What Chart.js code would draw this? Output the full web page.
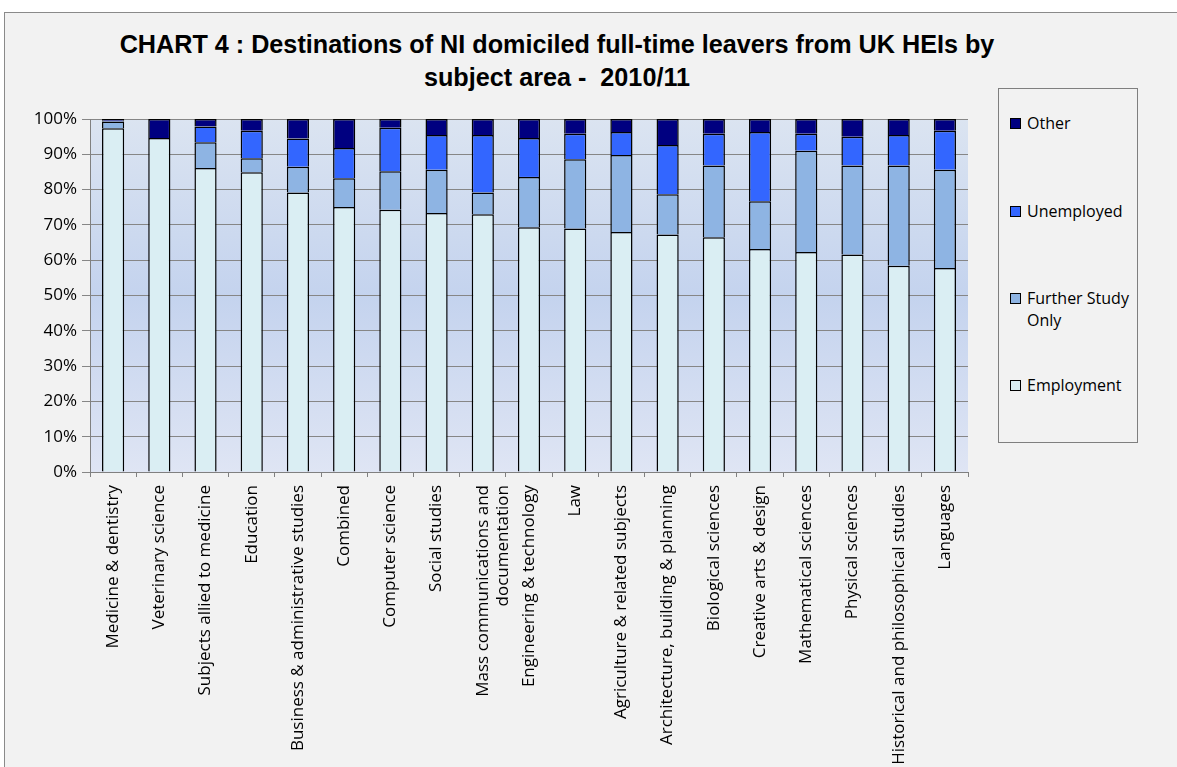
<!DOCTYPE html>
<html>
<head>
<meta charset="utf-8">
<script src="https://cdn.jsdelivr.net/npm/chart.js@4/dist/chart.umd.min.js"></script>
<style>
  html, body { margin: 0; padding: 0; background: #ffffff; overflow: hidden; }
  #wrap { position: relative; width: 1177px; height: 767px; overflow: hidden; }
  #frame { position: absolute; left: 4px; top: 12px; width: 1200px; height: 800px;
           background: #f2f2f2; border-top: 1px solid #8a8a8a; border-left: 1px solid #8a8a8a; }
  #title { position: absolute; left: 57px; width: 1000px; top: 28px; text-align: center;
           font-family: "Liberation Sans", Arial, sans-serif;
           font-weight: bold; font-size: 25.2px; line-height: 33px; color: #000; }
  canvas { position: absolute; left: 0; top: 0; }
  #legend { position: absolute; left: 998px; top: 88px; width: 138px; height: 353px;
            border: 1px solid #7f7f7f; background: #f2f2f2;
            font-family: "Open Sans", sans-serif; font-size: 16px; color: #000; }
  .item { position: absolute; left: 11px; }
  .sw { position: absolute; left: 0; width: 9px; height: 9px; border: 1px solid #000; }
  .lt { position: absolute; left: 17px; line-height: 22px; white-space: nowrap; }
</style>
</head>
<body>
<div id="wrap">
  <div id="frame"></div>
  <div id="title">CHART 4 : Destinations of NI domiciled full-time leavers from UK HEIs by<br>subject area -&nbsp; 2010/11</div>
  <canvas id="c" width="1177" height="767"></canvas>
  <div id="legend"></div>
</div>
<script>
const categories = [
  "Medicine & dentistry", "Veterinary science", "Subjects allied to medicine", "Education",
  "Business & administrative studies", "Combined", "Computer science", "Social studies",
  ["Mass communications and", "documentation"], "Engineering & technology", "Law",
  "Agriculture & related subjects", "Architecture, building & planning", "Biological sciences",
  "Creative arts & design", "Mathematical sciences", "Physical sciences",
  "Historical and philosophical studies", "Languages"
];
const employment   = [97.4, 94.6, 86.1, 84.9, 79.2, 75.1, 74.3, 73.4, 73.0, 69.3, 69.0, 68.0, 67.3, 66.5, 63.2, 62.3, 61.6, 58.4, 57.8];
const furtherStudy = [1.9, 0.0, 7.3, 4.0, 7.3, 8.1, 10.9, 12.2, 6.2, 14.3, 19.6, 21.8, 11.4, 20.3, 13.5, 28.7, 25.2, 28.4, 27.8];
const unemployed   = [0.2, 0.0, 4.5, 7.8, 8.0, 8.6, 12.3, 9.9, 16.3, 11.0, 7.2, 6.5, 13.9, 9.0, 19.6, 4.8, 8.2, 8.7, 11.1];
const other        = [0.5, 5.4, 2.1, 3.3, 5.5, 8.2, 2.5, 4.5, 4.5, 5.4, 4.2, 3.7, 7.4, 4.2, 3.7, 4.2, 5.0, 4.5, 3.3];
const yTicks = [0, 10, 20, 30, 40, 50, 60, 70, 80, 90, 100];

const seriesNames  = ["Employment", "Further Study Only", "Unemployed", "Other"];
const seriesColors = ["#daeef3", "#8eb4e3", "#3366ff", "#000080"];
const seriesData   = [employment, furtherStudy, unemployed, other];

const plotBg = {
  id: 'plotBg',
  beforeDraw(chart) {
    const a = chart.chartArea; const ctx = chart.ctx;
    const g = ctx.createLinearGradient(0, a.top, 0, a.bottom);
    g.addColorStop(0, '#dbe4f1');
    g.addColorStop(0.5, '#c4d3ee');
    g.addColorStop(1, '#dfe5f4');
    ctx.save(); ctx.fillStyle = g;
    ctx.fillRect(a.left, a.top, a.right - a.left, a.bottom - a.top);
    ctx.restore();
  }
};

const font = { family: "'Open Sans', sans-serif", size: 17 };

new Chart(document.getElementById('c'), {
  type: 'bar',
  data: {
    labels: categories,
    datasets: seriesData.map((d, i) => ({
      label: seriesNames[i], data: d, backgroundColor: seriesColors[i],
      borderColor: '#000000', borderWidth: 1.5,
      categoryPercentage: 1.0, barPercentage: 0.48
    }))
  },
  options: {
    responsive: false, animation: false, devicePixelRatio: 1,
    layout: { padding: { left: 0, top: 119, right: 209, bottom: 0 } },
    plugins: { legend: { display: false }, title: { display: false }, tooltip: { enabled: false } },
    scales: {
      x: {
        stacked: true,
        grid: { drawOnChartArea: false, drawTicks: true, tickLength: 5, color: '#808080', offset: true },
        border: { display: true, color: '#808080', width: 1 },
        ticks: { autoSkip: false, minRotation: 90, maxRotation: 90, color: '#000', font: font, padding: 8 },
        afterFit(s) { s.height = 295; }
      },
      y: {
        stacked: true, min: 0, max: 100,
        afterBuildTicks(s) { s.ticks = yTicks.map(v => ({ value: v })); },
        grid: { color: '#868686', lineWidth: 1, tickLength: 8 },
        border: { display: true, color: '#808080', width: 1 },
        ticks: { color: '#000', font: font, padding: 5, callback: v => v + '%' },
        afterFit(s) { s.width = 90; }
      }
    }
  },
  plugins: [plotBg]
});

// legend (reversed order, as in the reference)
const legend = document.getElementById('legend');
const legendRows = [
  { idx: 3, top: 23, text: "Other" },
  { idx: 2, top: 111, text: "Unemployed" },
  { idx: 1, top: 198, text: "Further Study<br>Only" },
  { idx: 0, top: 285, text: "Employment" }
];
legendRows.forEach(r => {
  const it = document.createElement('div');
  it.className = 'item'; it.style.top = r.top + 'px';
  it.innerHTML = '<div class="sw" style="top:6px;background:' + seriesColors[r.idx] + '"></div>' +
                 '<div class="lt" style="top:0">' + r.text + '</div>';
  legend.appendChild(it);
});
</script>
</body>
</html>
